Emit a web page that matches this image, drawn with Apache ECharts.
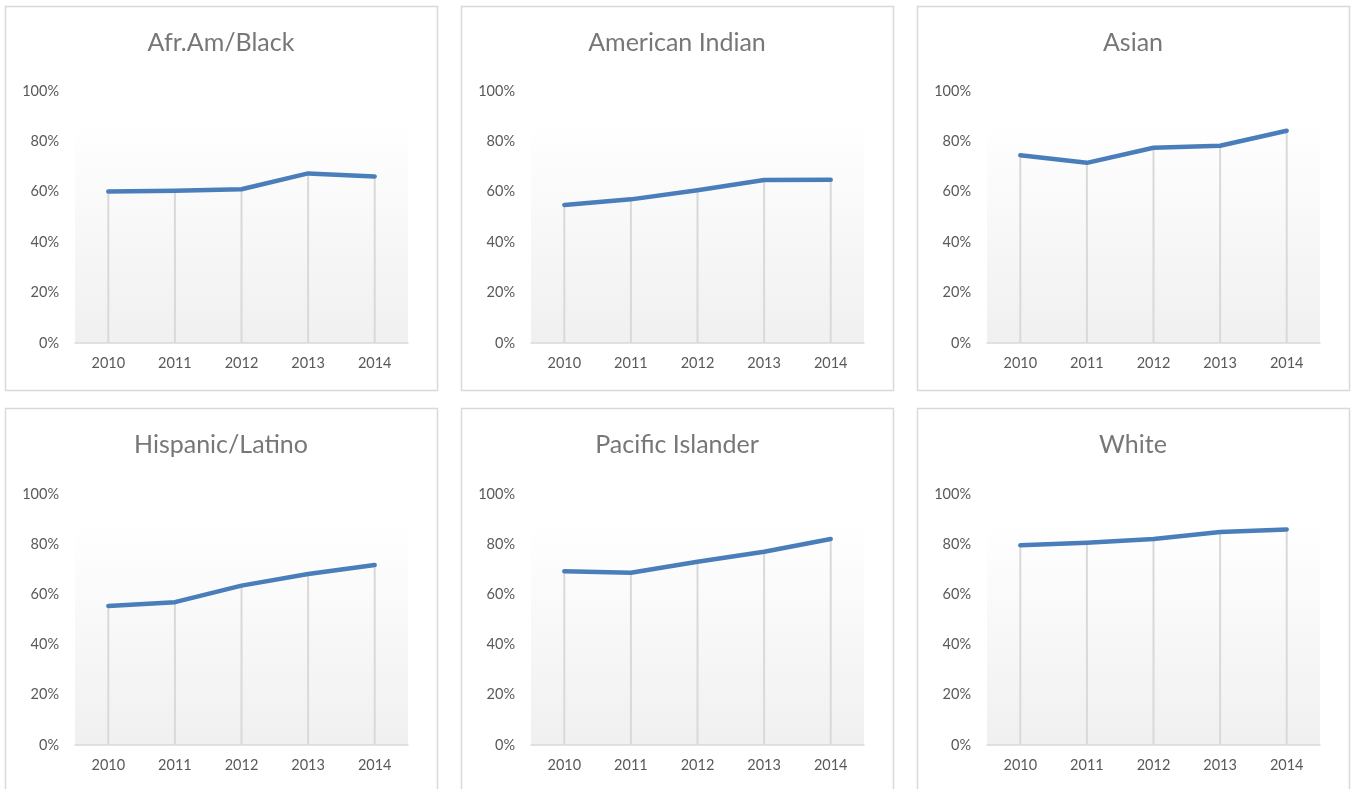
<!DOCTYPE html>
<html>
<head>
<meta charset="utf-8">
<script src="https://cdn.jsdelivr.net/npm/echarts@6/dist/echarts.min.js"></script>
<style>
  html, body { margin: 0; padding: 0; background: #ffffff; }
  #chart { width: 1351px; height: 789px; }
</style>
</head>
<body>
<div id="chart"></div>
<script>
// ---- Data ----
const years = ['2010', '2011', '2012', '2013', '2014'];
const titles = ['Afr.Am/Black', 'American Indian', 'Asian', 'Hispanic/Latino', 'Pacific Islander', 'White'];
const afrAmBlack      = [60.1, 60.4, 61.0, 67.3, 66.1];
const americanIndian  = [54.8, 57.0, 60.6, 64.7, 64.8];
const asian           = [74.5, 71.5, 77.5, 78.3, 84.2];
const hispanicLatino  = [55.4, 56.9, 63.5, 68.1, 71.7];
const pacificIslander = [69.2, 68.6, 73.0, 77.0, 82.1];
const white           = [79.6, 80.6, 82.1, 84.9, 85.9];
const seriesData = [afrAmBlack, americanIndian, asian, hispanicLatino, pacificIslander, white];

// ---- Layout ----
const panelLefts = [5, 461, 917];
const panelTops = [6, 408];
const panelW = 432, panelH = 384;
const gridTops = [91, 494];
const gridHeights = [252, 251];
const FONT = 'Lato, "Open Sans", sans-serif';

const chart = echarts.init(document.getElementById('chart'));

const grids = [], xAxes = [], yAxes = [], series = [], titleOpts = [], graphics = [];

seriesData.forEach((data, i) => {
  const col = i % 3, row = Math.floor(i / 3);
  const px = panelLefts[col], py = panelTops[row];

  graphics.push({
    type: 'rect', silent: true, z: -1,
    shape: { x: px + 0.5, y: py + 0.5, width: panelW, height: panelH },
    style: { fill: '#ffffff', stroke: '#d9d9d9', lineWidth: 1.5 }
  });

  titleOpts.push({
    text: titles[i],
    left: px + panelW / 2,
    top: py + 24,
    textAlign: 'center',
    padding: 0,
    textStyle: { fontFamily: FONT, fontSize: 25, fontWeight: 'normal', color: '#777777' }
  });

  grids.push({
    left: px + 70, top: gridTops[row], width: 333, height: gridHeights[row],
    show: true, borderWidth: 0,
    backgroundColor: {
      type: 'linear', x: 0, y: 0, x2: 0, y2: 1,
      colorStops: [{ offset: 0, color: '#ffffff' }, { offset: 0.12, color: '#ffffff' }, { offset: 1, color: '#f0f0f0' }]
    }
  });

  xAxes.push({
    type: 'category', gridIndex: i, data: years, boundaryGap: true,
    axisLine: { show: true, lineStyle: { color: '#d9d9d9', width: 1.5 } },
    axisTick: { show: false },
    axisLabel: { margin: 13, fontFamily: FONT, fontSize: 14.5, color: '#595959' },
    splitLine: { show: false }
  });

  yAxes.push({
    type: 'value', gridIndex: i, min: 0, max: 100, interval: 20,
    axisLine: { show: false }, axisTick: { show: false },
    splitLine: { show: false },
    axisLabel: { margin: 16, formatter: '{value}%', fontFamily: FONT, fontSize: 14.5, color: '#595959' }
  });

  // drop lines from each point to the axis
  series.push({
    type: 'bar', xAxisIndex: i, yAxisIndex: i, data: data,
    barWidth: 2, itemStyle: { color: '#d9d9d9' }, silent: true, z: 1
  });

  series.push({
    type: 'line', xAxisIndex: i, yAxisIndex: i, data: data,
    symbol: 'none', smooth: false, z: 3,
    lineStyle: { color: '#4a7ebb', width: 4.5, cap: 'round', join: 'round' }
  });
});

chart.setOption({
  animation: false,
  title: titleOpts,
  grid: grids,
  xAxis: xAxes,
  yAxis: yAxes,
  series: series,
  graphic: graphics
});
</script>
</body>
</html>
